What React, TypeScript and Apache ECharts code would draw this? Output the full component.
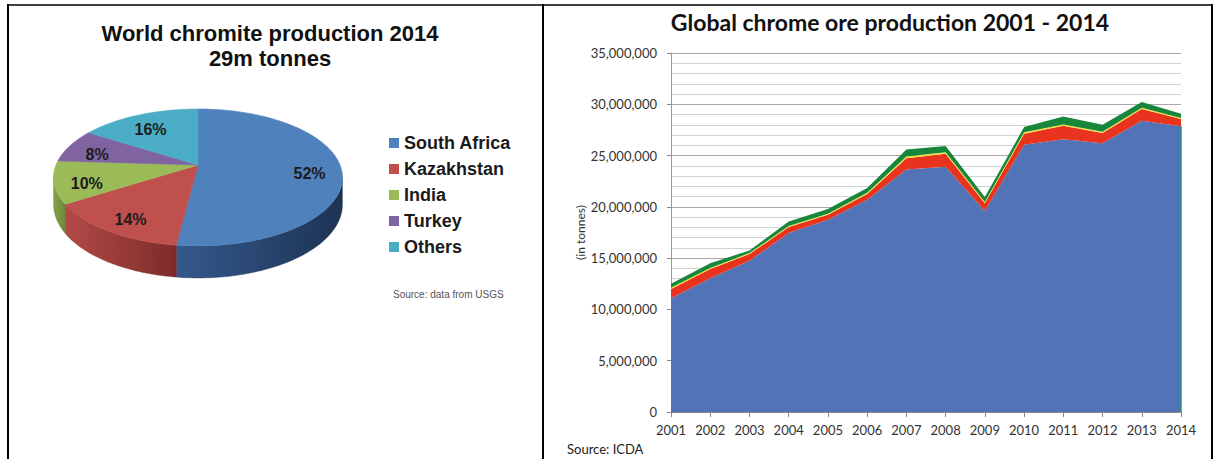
import React, { useEffect, useRef } from "react";
import * as echarts from "echarts";

// ---------- Data: pie (World chromite production 2014) ----------
const pieLabels = ["South Africa", "Kazakhstan", "India", "Turkey", "Others"];
const pieValues = [52, 14, 10, 8, 16];

// ---------- Data: stacked area (Global chrome ore production) ----------
const years = ["2001", "2002", "2003", "2004", "2005", "2006", "2007", "2008", "2009", "2010", "2011", "2012", "2013", "2014"];
const blueVals = [11100000, 13050000, 14750000, 17440000, 18740000, 20690000, 23650000, 23900000, 19600000, 26060000, 26600000, 26200000, 28400000, 27850000];
const redVals = [900000, 880000, 650000, 590000, 490000, 560000, 1100000, 1280000, 750000, 1070000, 1300000, 1000000, 1140000, 720000];
const yellowVals = [120000, 120000, 100000, 100000, 100000, 120000, 150000, 150000, 120000, 150000, 120000, 120000, 120000, 100000];
const greenVals = [380000, 450000, 250000, 440000, 450000, 460000, 700000, 600000, 500000, 500000, 800000, 680000, 560000, 410000];
const yTicks = [0, 5000000, 10000000, 15000000, 20000000, 25000000, 30000000, 35000000];

// ---------- Styles ----------
const pieTopColors = ["#4f81bd", "#c0504d", "#9bbb59", "#8064a2", "#4bacc6"];
const pieSideColors = [
  ["#34598b", "#1d3354"],
  ["#b24a46", "#7e2c2a"],
  ["#86a24a", "#6c8738"],
  ["#6a5189", "#54406e"],
  ["#3a93ab", "#2d7589"],
];
const areaColors = ["#5274b6", "#e8341f", "#f2e23c", "#18873b"];

const PIE = { cx: 198, cy: 165, rx: 142, ry: 66.2, k: 0.182, depth: 26.2 };

function proj(theta: number, r = 1): [number, number] {
  const u = r * Math.sin(theta);
  const v = -r * Math.cos(theta);
  const f = 1 / (1 - PIE.k * v);
  return [PIE.cx + PIE.rx * u * f, PIE.cy + PIE.ry * v * f];
}
function projBottom(theta: number): [number, number] {
  const [x, y] = proj(theta);
  const v = -Math.cos(theta);
  const f = 1 / (1 - PIE.k * v);
  return [x, y + PIE.depth * f];
}

function arcPoints(a: number, b: number, fn: (t: number) => [number, number]) {
  const pts: [number, number][] = [];
  const step = Math.PI / 180;
  for (let t = a; t < b; t += step) pts.push(fn(t));
  pts.push(fn(b));
  return pts;
}

function makeRender(i: number) {
  return () => {
    const total = pieValues.reduce((s, v) => s + v, 0);
    const before = pieValues.slice(0, i).reduce((s, v) => s + v, 0);
    const start = (before / total) * Math.PI * 2;
    const end = ((before + pieValues[i]) / total) * Math.PI * 2;
    const children: any[] = [];
    const topPts = [[PIE.cx, PIE.cy] as [number, number], ...arcPoints(start, end, (t) => proj(t))];
    children.push({
      type: "polygon",
      shape: { points: topPts },
      style: { fill: pieTopColors[i], stroke: pieTopColors[i], lineWidth: 0.6 },
      z2: 10,
    });
    const A1 = Math.acos(-PIE.k);
    const A2 = Math.PI * 2 - A1;
    const s = Math.max(start, A1);
    const e = Math.min(end, A2);
    if (e > s) {
      const topEdge = arcPoints(s, e, (t) => proj(t));
      const botEdge = arcPoints(s, e, (t) => projBottom(t)).reverse();
      const fill = new echarts.graphic.LinearGradient(0, 0, 1, 0, [
        { offset: 0, color: pieSideColors[i][0] },
        { offset: 1, color: pieSideColors[i][1] },
      ]);
      children.push({
        type: "polygon",
        shape: { points: [...topEdge, ...botEdge] },
        style: { fill, stroke: pieSideColors[i][1], lineWidth: 0.4 },
        z2: 1,
      });
    }
    const mid = (start + end) / 2;
    const [lx, ly] = proj(mid, 0.78);
    const pct = Math.round((pieValues[i] / total) * 100) + "%";
    children.push({
      type: "text",
      x: lx,
      y: ly + 5,
      style: {
        text: pct,
        fill: "#1c1c1c",
        fontSize: 16,
        fontWeight: "bold",
        fontFamily: "Liberation Sans, Arial, sans-serif",
        align: "center",
        verticalAlign: "middle",
      },
      z2: 20,
    });
    return { type: "group", children };
  };
}

export default function App() {
  const ref = useRef<HTMLDivElement>(null);
  useEffect(() => {
    if (!ref.current) return;
    const chart = echarts.init(ref.current, undefined, { renderer: "svg" });
    const latoFont = "Lato, 'Open Sans', sans-serif";
    const arialFont = "'Liberation Sans', Arial, sans-serif";

    const pieSeries = pieLabels.map((name, i) => ({
      type: "custom",
      name,
      coordinateSystem: "none",
      data: [pieValues[i]],
      itemStyle: { color: pieTopColors[i] },
      renderItem: makeRender(i),
      silent: true,
      z: 3,
    }));

    const areaNames = ["Blue series", "Red series", "Yellow series", "Green series"];
    const areaData = [blueVals, redVals, yellowVals, greenVals];
    const areaSeries = areaData.map((d, i) => ({
      type: "line",
      name: areaNames[i],
      stack: "total",
      data: d,
      symbol: "none",
      lineStyle: { width: 0 },
      areaStyle: { color: areaColors[i], opacity: 1 },
      silent: true,
      z: 2,
      ...(i === 0
        ? {
            markLine: {
              silent: true,
              symbol: ["none", "none"],
              label: { show: false },
              lineStyle: { color: "#2f8f80", width: 1.5, type: "solid" },
              data: [[{ coord: [years[years.length - 1], 0] }, { coord: [years[years.length - 1], blueVals[blueVals.length - 1]] }]],
            },
          }
        : {}),
    }));

    const option: any = {
      animation: false,
      backgroundColor: "#ffffff",
      legend: {
        data: pieLabels,
        orient: "vertical",
        left: 389,
        top: 133,
        padding: 0,
        icon: "rect",
        itemWidth: 10,
        itemHeight: 10,
        itemGap: 6,
        selectedMode: false,
        textStyle: { fontFamily: arialFont, fontWeight: "bold", fontSize: 18, color: "#1a1a1a", lineHeight: 20 },
      },
      grid: { left: 671, right: 36, top: 53, bottom: 47 },
      xAxis: {
        type: "category",
        data: years,
        boundaryGap: false,
        axisLine: { lineStyle: { color: "#8a8a8a" } },
        axisTick: { show: true, length: 5, lineStyle: { color: "#8a8a8a" } },
        axisLabel: { color: "#333", fontFamily: latoFont, fontSize: 13, margin: 11 },
        splitLine: { show: false },
      },
      yAxis: [
        {
          type: "value",
          min: yTicks[0],
          max: yTicks[yTicks.length - 1],
          interval: yTicks[1] - yTicks[0],
          name: "(in tonnes)",
          nameLocation: "middle",
          nameGap: 84,
          nameRotate: 90,
          nameTextStyle: { fontFamily: latoFont, fontSize: 12, color: "#333" },
          axisLine: { show: true, lineStyle: { color: "#9a9a9a" } },
          axisTick: { show: true, length: 4, lineStyle: { color: "#8a8a8a" } },
          axisLabel: {
            color: "#333",
            fontFamily: latoFont,
            fontSize: 13,
            margin: 14,
            formatter: (v: number) => v.toLocaleString("en-US"),
          },
          splitLine: { show: true, lineStyle: { color: "#a8a8a8", width: 1 } },
          minorTick: { show: false, splitNumber: 5 },
          minorSplitLine: { show: true, lineStyle: { color: "#d2d2d2", width: 1 } },
        },
      ],
      series: [...areaSeries, ...pieSeries],
      graphic: [
        { type: "line", shape: { x1: 7, y1: 5, x2: 1213, y2: 5 }, style: { stroke: "#000", lineWidth: 1.5 } },
        { type: "line", shape: { x1: 8, y1: 4, x2: 8, y2: 459 }, style: { stroke: "#000", lineWidth: 2 } },
        { type: "line", shape: { x1: 543, y1: 4, x2: 543, y2: 459 }, style: { stroke: "#000", lineWidth: 2 } },
        { type: "line", shape: { x1: 1212, y1: 4, x2: 1212, y2: 459 }, style: { stroke: "#000", lineWidth: 2 } },
        {
          type: "text",
          x: 270,
          y: 33,
          style: { text: "World chromite production 2014", font: `bold 22px ${arialFont}`, fill: "#111", textAlign: "center", textVerticalAlign: "middle", align: "center", verticalAlign: "middle" },
        },
        {
          type: "text",
          x: 270,
          y: 58,
          style: { text: "29m tonnes", font: `bold 22px ${arialFont}`, fill: "#111", textAlign: "center", textVerticalAlign: "middle", align: "center", verticalAlign: "middle" },
        },
        {
          type: "text",
          x: 393,
          y: 294,
          style: { text: "Source: data from USGS", font: `10px ${arialFont}`, fill: "#555", textAlign: "left", textVerticalAlign: "middle", align: "left", verticalAlign: "middle" },
        },
        {
          type: "text",
          x: 890,
          y: 22,
          style: { text: "Global chrome ore production 2001 - 2014", font: `bold 23px ${latoFont}`, fill: "#111", textAlign: "center", textVerticalAlign: "middle", align: "center", verticalAlign: "middle" },
        },
        {
          type: "text",
          x: 567,
          y: 449,
          style: { text: "Source: ICDA", font: `13px ${latoFont}`, fill: "#222", textAlign: "left", textVerticalAlign: "middle", align: "left", verticalAlign: "middle" },
        },
      ],
    };
    chart.setOption(option);
    return () => chart.dispose();
  }, []);
  return <div ref={ref} style={{ position: "absolute", left: 0, top: 0, width: 1217, height: 459, background: "#fff" }} />;
}
